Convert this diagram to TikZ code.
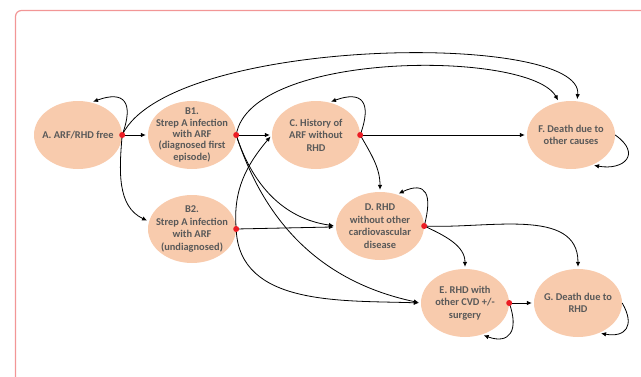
\documentclass[tikz,border=0pt]{standalone}
\usepackage{fontspec}
\setmainfont{Carlito}
\usetikzlibrary{arrows.meta,positioning,shapes.geometric}
\definecolor{statefill}{RGB}{248,203,173}
\definecolor{statetext}{RGB}{89,89,89}
\definecolor{splitred}{RGB}{235,28,36}
\definecolor{framepink}{RGB}{242,150,150}

\begin{document}
\begin{tikzpicture}[x=1pt,y=1pt,on grid,>={Latex[length=5pt,width=4.5pt]},
    state/.style={ellipse,fill=statefill,minimum width=88pt,minimum height=68pt,
      inner sep=-9pt,align=center,text=statetext,font=\bfseries\fontsize{10.4}{12.6}\selectfont},
    split/.style={circle,fill=splitred,inner sep=0pt,minimum size=6pt}]
   \useasboundingbox (0,0) rectangle (641,376);
   \clip (0,0) rectangle (641,376);
   \draw[framepink,line width=1.2pt,rounded corners=6pt] (15.5,365.5) rectangle (680,-30);

   \node[state] (A) at (78,241) {A. ARF/RHD free};
   \node[state,font=\bfseries\fontsize{10.4}{11.4}\selectfont] (B1) [right=114pt of A] {B1.\\Strep A infection\\with ARF\\(diagnosed first\\episode)};
   \node[state] (C)  [right=124pt of B1] {C. History of\\ARF without\\RHD};
   \node[state] (F)  [right=255pt of C] {F. Death due to\\other causes};
   \node[state] (B2) [below=94pt of B1] {B2.\\Strep A infection\\with ARF\\(undiagnosed)};
   \node[state] (D)  [below right=91pt and 64pt of C] {D. RHD\\without other\\cardiovascular\\disease};
   \node[state] (E)  [below right=77pt and 85pt of D] {E. RHD with\\other CVD +/-\\surgery};
   \node[state] (G)  [right=113pt of E] {G. Death due to\\RHD};

   \coordinate (jA)  at (A.east);
   \coordinate (jB1) at (B1.east);
   \coordinate (jB2) at (B2.east);
   \coordinate (jC)  at (C.east);
   \coordinate (jD)  at (D.east);
   \coordinate (jE)  at (E.east);

   \path[->,line width=0.8pt,shorten >=2pt]
    (jA)  edge (B1)
          edge[out=-95,in=155] (B2.170)
          edge[out=70,in=20,looseness=2] (A.68)
    (jB1) edge (C)
          edge[out=-72,in=172] (D.west)
          edge[out=-72,in=168] (E.west)
    (jB2) edge (D)
          edge[out=95,in=-130] (C.west)
          edge[out=-88,in=178] (E.west)
    (jC)  edge (F)
          edge[out=-60,in=90] (D.north)
          edge[out=70,in=20,looseness=2] (C.68)
    (jD)  edge[out=75,in=25,looseness=2] (D.62)
          edge[out=-25,in=90] (E.north)
          edge[out=-3,in=90] (G.north)
    (jE)  edge (G)
          edge[out=-70,in=-20,looseness=1.8] (E.-62)
    (F.east) edge[out=-35,in=-10,looseness=2.2] (F.-55)
    (G.east) edge[out=-60,in=-10,looseness=1.8] (G.-55);
   % long arcs over the top row
   \draw[->,line width=0.8pt,shorten >=2pt] (jA) .. controls (170,340) and (585,345) .. (F.80);
   \draw[->,line width=0.8pt,shorten >=2pt] (jB1) .. controls (250,326) and (530,326) .. (F.110);

   \foreach \j in {jA,jB1,jB2,jC,jD,jE}
     \node[split] at (\j) {};
\end{tikzpicture}
\end{document}
